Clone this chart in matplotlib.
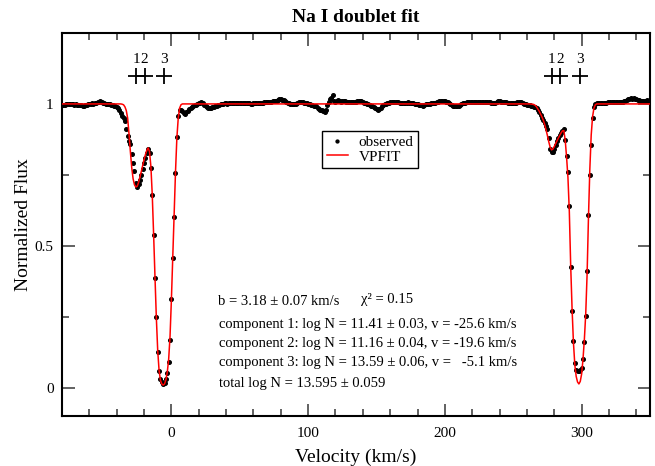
import numpy as np
import matplotlib
matplotlib.use("Agg")
import matplotlib.pyplot as plt
from matplotlib.ticker import MultipleLocator

plt.rcParams['font.family'] = ['Liberation Serif', 'DejaVu Serif']
plt.rcParams['mathtext.fontset'] = 'stix'

# ---------------- data ----------------
# observed spectrum: velocity grid (km/s) from -80 to 350, 1 km/s pixels
obs_v_start = -80
obs_v_step = 1.0
obs_flux = [
    0.996, 0.995, 0.997, 0.999, 1.000, 0.999, 1.001, 0.999, 0.998, 0.997,   # -80..-71
    0.998, 0.996, 0.995, 0.997, 0.996, 0.994, 0.993, 0.995, 0.996, 0.998,   # -70..-61
    0.999, 1.000, 1.002, 1.001, 1.003, 1.004, 1.006, 1.008, 1.010, 1.008,   # -60..-51
    1.004, 1.003, 1.001, 1.000, 0.999, 0.998, 0.997, 0.995, 0.993, 0.991,   # -50..-41
    0.990, 0.986, 0.979, 0.969, 0.959, 0.951, 0.941, 0.912, 0.886, 0.871,   # -40..-31
    0.857, 0.825, 0.793, 0.765, 0.722, 0.707, 0.717, 0.733, 0.751, 0.771,   # -30..-21
    0.791, 0.810, 0.827, 0.840, 0.826, 0.775, 0.680, 0.538, 0.385, 0.250,   # -20..-11
    0.125, 0.058, 0.029, 0.019, 0.013, 0.016, 0.031, 0.051, 0.092, 0.168,   # -10..-1
    0.312, 0.456, 0.600, 0.755, 0.885, 0.957, 0.977, 0.979, 0.974, 0.968,   # 0..9
    0.966, 0.970, 0.976, 0.982, 0.987, 0.990, 0.993, 0.995, 0.997, 0.999,   # 10..19
    1.002, 1.005, 1.006, 1.003, 0.997, 0.992, 0.989, 0.987, 0.986, 0.987,   # 20..29
    0.988, 0.990, 0.992, 0.994, 0.996, 0.997, 0.998, 0.999, 1.000, 1.002,   # 30..39
    1.002, 1.001, 1.002, 1.003, 1.002, 1.002, 1.003, 1.004, 1.004, 1.003,   # 40..49
    1.004, 1.005, 1.004, 1.004, 1.003, 1.003, 1.002, 1.002, 1.001, 1.001,   # 50..59
    1.002, 1.002, 1.003, 1.002, 1.002, 1.003, 1.004, 1.005, 1.006, 1.007,   # 60..69
    1.008, 1.008, 1.008, 1.008, 1.009, 1.009, 1.010, 1.011, 1.015, 1.018,   # 70..79
    1.017, 1.015, 1.013, 1.010, 1.008, 1.005, 1.003, 1.001, 0.999, 0.998,   # 80..89
    0.999, 1.001, 1.004, 1.006, 1.008, 1.007, 1.006, 1.004, 1.003, 1.002,   # 90..99
    1.000, 0.998, 0.996, 0.995, 0.994, 0.993, 0.991, 0.986, 0.981, 0.978,   # 100..109
    0.977, 0.976, 0.972, 0.980, 0.995, 1.008, 1.016, 1.020, 1.032, 1.012,   # 110..119
    1.008, 1.011, 1.014, 1.011, 1.008, 1.009, 1.010, 1.010, 1.008, 1.006,   # 120..129
    1.007, 1.008, 1.007, 1.006, 1.006, 1.008, 1.009, 1.010, 1.011, 1.009,   # 130..139
    1.007, 1.005, 1.003, 1.001, 0.999, 0.997, 0.994, 0.992, 0.989, 0.986,   # 140..149
    0.982, 0.979, 0.982, 0.987, 0.991, 0.995, 0.998, 1.001, 1.003, 1.005,   # 150..159
    1.006, 1.007, 1.008, 1.008, 1.007, 1.006, 1.006, 1.005, 1.004, 1.003,   # 160..169
    1.003, 1.004, 1.005, 1.006, 1.005, 1.004, 1.003, 1.002, 1.000, 0.999,   # 170..179
    0.998, 0.997, 0.996, 0.995, 0.994, 0.995, 0.998, 0.999, 1.000, 1.001,   # 180..189
    1.002, 1.003, 1.004, 1.005, 1.006, 1.008, 1.009, 1.011, 1.010, 1.009,   # 190..199
    1.009, 1.008, 1.006, 1.003, 1.000, 0.997, 0.994, 0.993, 0.991, 0.992,   # 200..209
    0.994, 0.996, 0.999, 1.002, 1.004, 1.005, 1.006, 1.007, 1.008, 1.007,   # 210..219
    1.007, 1.006, 1.006, 1.006, 1.006, 1.006, 1.007, 1.007, 1.008, 1.008,   # 220..229
    1.007, 1.007, 1.006, 1.006, 1.005, 1.004, 1.003, 1.002, 1.006, 1.010,   # 230..239
    1.009, 1.007, 1.006, 1.006, 1.006, 1.006, 1.005, 1.004, 1.003, 1.002,   # 240..249
    1.002, 1.003, 1.005, 1.007, 1.008, 1.008, 1.007, 1.005, 1.001, 0.998,   # 250..259
    0.996, 0.996, 0.995, 0.994, 0.992, 0.990, 0.988, 0.984, 0.978, 0.970,   # 260..269
    0.962, 0.952, 0.944, 0.933, 0.922, 0.912, 0.880, 0.840, 0.829, 0.830,   # 270..279
    0.840, 0.855, 0.869, 0.881, 0.891, 0.899, 0.906, 0.910, 0.873, 0.815,   # 280..289
    0.760, 0.640, 0.425, 0.270, 0.165, 0.087, 0.061, 0.059, 0.060, 0.061,   # 290..299
    0.070, 0.100, 0.160, 0.252, 0.410, 0.610, 0.750, 0.856, 0.950, 0.990,   # 300..309
    0.999, 1.002, 1.004, 1.005, 1.004, 1.004, 1.005, 1.005, 1.005, 1.006,   # 310..319
    1.006, 1.006, 1.007, 1.007, 1.007, 1.008, 1.008, 1.007, 1.006, 1.007,   # 320..329
    1.008, 1.010, 1.012, 1.014, 1.016, 1.018, 1.020, 1.019, 1.020, 1.018,   # 330..339
    1.016, 1.014, 1.013, 1.012, 1.011, 1.011, 1.012, 1.012, 1.013, 1.012,   # 340..349
    1.012,                                                                  # 350
]

# VPFIT model profile
fit_vel = [-80, -37, -36, -35, -34, -33, -32, -31, -30, -29, -28, -27, -26, -25,
           -24, -23, -22, -21, -20, -19, -18, -17, -16, -15, -14, -13, -12, -11,
           -10, -9, -8, -7, -6, -5, -4, -3, -2, -1, 0, 1, 2, 3, 4, 5, 6, 7, 8,
           262, 264, 265, 266, 267, 268, 269, 270, 271, 272, 273, 274, 275, 276,
           277, 278, 279, 280, 281, 282, 283, 284, 285, 286, 287, 288, 289, 290,
           291, 292, 293, 294, 295, 296, 297, 298, 299, 300, 301, 302, 303, 304,
           305, 306, 307, 308, 309, 310, 311, 350]
fit_flux = [1.000, 1.000, 0.999, 0.997, 0.990, 0.977, 0.950, 0.895, 0.832, 0.775,
            0.736, 0.715, 0.707, 0.710, 0.723, 0.742, 0.762, 0.783, 0.803, 0.821,
            0.836, 0.845, 0.832, 0.780, 0.680, 0.540, 0.390, 0.245, 0.130, 0.060,
            0.026, 0.013, 0.009, 0.013, 0.028, 0.055, 0.100, 0.180, 0.310, 0.460,
            0.610, 0.760, 0.880, 0.950, 0.985, 0.997, 1.000,
            1.000, 0.999, 0.998, 0.995, 0.990, 0.982, 0.974, 0.964, 0.954, 0.942,
            0.927, 0.908, 0.888, 0.866, 0.847, 0.838, 0.841, 0.850, 0.860, 0.870,
            0.880, 0.889, 0.898, 0.905, 0.906, 0.872, 0.812, 0.740, 0.620, 0.430,
            0.280, 0.160, 0.082, 0.040, 0.020, 0.013, 0.022, 0.048, 0.100, 0.170,
            0.260, 0.400, 0.600, 0.770, 0.890, 0.955, 0.985, 0.997, 1.000, 1.000]

# component velocities (km/s) for the two doublet lines
comp_labels = ['1', '2', '3']
comp_vel_D2 = [-25.6, -19.6, -5.1]
comp_vel_D1 = [278.3, 284.3, 298.8]
tick_level = 1.1

# fit results text
fit_text_b = "b = 3.18 \u00b1 0.07 km/s"
fit_text_chi = "\u03c7\u00b2 = 0.15"
fit_text_comps = [
    "component 1: log N = 11.41 \u00b1 0.03, v = -25.6 km/s",
    "component 2: log N = 11.16 \u00b1 0.04, v = -19.6 km/s",
    "component 3: log N = 13.59 \u00b1 0.06, v =   -5.1 km/s",
]
fit_text_total = "total log N = 13.595 \u00b1 0.059"

# ---------------- plot ----------------
obs_vel = obs_v_start + obs_v_step * np.arange(len(obs_flux))

fig = plt.figure(figsize=(6.55, 4.66), dpi=100)
ax = fig.add_axes([62/655, 1 - 416/466, 588/655, 383/466])

ax.plot(obs_vel, obs_flux, linestyle='none', marker='o', markersize=2.6,
        color='black', label='observed', zorder=3)
ax.plot(fit_vel, fit_flux, color='red', linewidth=1.1, label='VPFIT', zorder=4)

for vels in (comp_vel_D2, comp_vel_D1):
    ax.plot(vels, [tick_level] * len(vels), linestyle='none', marker='+',
            markersize=11, markeredgewidth=1.3, color='black')
    for lab, v in zip(comp_labels, vels):
        ax.text(v, tick_level + 0.055, lab, ha='center', va='center', fontsize=11)

ax.set_xlim(-80, 350)
ax.set_ylim(-0.1, 1.25)
ax.xaxis.set_major_locator(MultipleLocator(100))
ax.xaxis.set_minor_locator(MultipleLocator(20))
ax.yaxis.set_major_locator(MultipleLocator(0.5))
ax.yaxis.set_minor_locator(MultipleLocator(0.25))
ax.yaxis.set_major_formatter(plt.FuncFormatter(lambda y, p: f"{y:g}"))
ax.tick_params(which='both', direction='in', top=True, right=True,
               labelsize=11, width=1.3, color='#555555')
ax.tick_params(which='major', length=9)
ax.tick_params(which='minor', length=5)
ax.tick_params(axis='x', which='major', pad=8)
ax.tick_params(axis='y', which='major', pad=6)
for s in ax.spines.values():
    s.set_linewidth(1.5)

ax.set_title("Na I doublet fit", fontsize=14, fontweight='bold', pad=8)
ax.set_xlabel("Velocity (km/s)", fontsize=14, labelpad=6)
ax.set_ylabel("Normalized Flux", fontsize=14, labelpad=2)

leg = ax.legend(loc='upper left', bbox_to_anchor=((322 - 62) / 588, (416 - 131) / 383),
                fontsize=11, frameon=True, fancybox=False, edgecolor='black',
                framealpha=1, borderpad=0.3, handlelength=1.4, handletextpad=0.7,
                labelspacing=0.05, borderaxespad=0.0, markerscale=0.8)
leg.get_frame().set_linewidth(1.0)

ax.text(34, 0.305, fit_text_b, fontsize=10.5, va='center', ha='left')
ax.text(139, 0.312, fit_text_chi, fontsize=10.5, va='center', ha='left')
for i, t in enumerate(fit_text_comps):
    ax.text(35, 0.224 - i * 0.067, t, fontsize=10.5, va='center', ha='left')
ax.text(35, 0.013, fit_text_total, fontsize=10.5, va='center', ha='left')

fig.savefig("out.png", dpi=100)
